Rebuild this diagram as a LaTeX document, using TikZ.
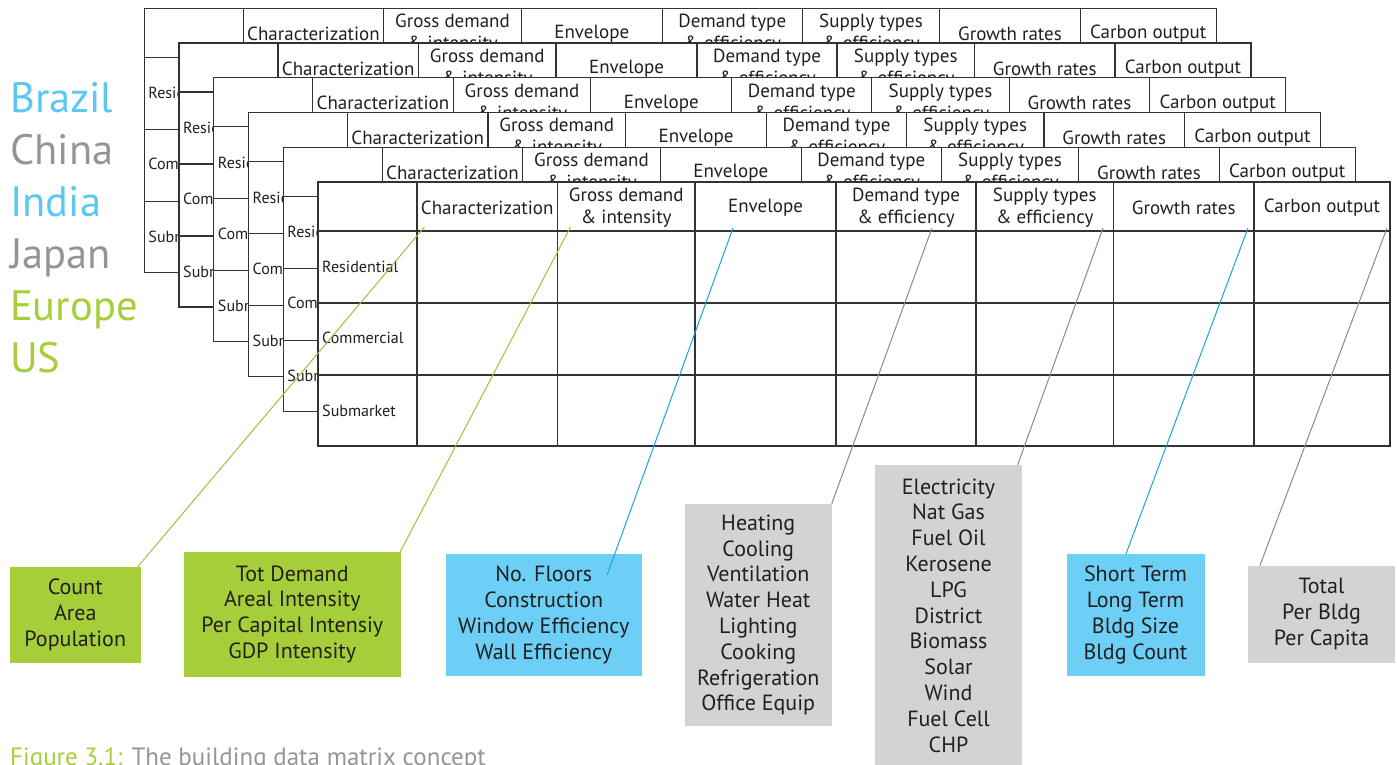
\documentclass[tikz,border=0pt]{standalone}
\usepackage{fontspec}
\setmainfont{PT Sans}
\usetikzlibrary{calc}
\definecolor{ink}{HTML}{231F20}
\definecolor{tblline}{HTML}{333333}
\definecolor{cblue}{HTML}{5BC8F2}
\definecolor{cgray}{HTML}{939598}
\definecolor{cgreen}{HTML}{A6CE39}
\definecolor{bgreen}{HTML}{A6CE39}
\definecolor{bblue}{HTML}{6DCFF6}
\definecolor{bgray}{HTML}{D1D3D4}
\definecolor{lgreen}{HTML}{9CC43A}
\definecolor{lblue}{HTML}{1BA3E3}
\definecolor{lgray}{HTML}{8C8C8C}
\begin{document}
\begin{tikzpicture}[x=1pt,y=-1pt,
  tbl/.style={draw=tblline, line width=1.3pt},
  hdr/.style={font=\fontsize{19}{22}\selectfont, align=center, text=ink, inner sep=0pt},
  rowlbl/.style={font=\fontsize{16.1}{18}\selectfont, anchor=west, text=ink, inner sep=0pt},
  country/.style={font=\fontsize{42.5}{48}\selectfont, anchor=base west, inner sep=0pt},
  infobox/.style={font=\fontsize{22}{25.8}\selectfont, align=center, text=ink, inner sep=0pt},
  conn/.style={line width=1pt}]
\useasboundingbox (0,0) rectangle (1397,764);

% stacked tables
\foreach \k in {0,...,5} {
  \pgfmathsetmacro\off{(\k-5)*34.75}
  \begin{scope}[shift={(318+\off,182+\off)}]
    \filldraw[tbl, fill=white] (0,0) rectangle (1072,264);
    \foreach \yy in {49,121,193} \draw[tbl] (0,\yy) -- (1072,\yy);
    \foreach \xx in {99,239.5,377,518,658,795.5,936} \draw[tbl] (\xx,0) -- (\xx,264);
    \node[hdr] (ha\k) at (169.25,25.5) {Characterization};
    \node[hdr] (hb\k) at (308.25,25.5) {Gross demand\\\& intensity};
    \node[hdr] (hc\k) at (447.5,25.5) {Envelope};
    \node[hdr] (hd\k) at (588,25.5) {Demand type\\\& efficiency};
    \node[hdr] (he\k) at (726.75,25.5) {Supply types\\\& efficiency};
    \node[hdr] (hf\k) at (865.75,25.5) {Growth rates};
    \node[hdr] (hg\k) at (1004,25.5) {Carbon output};
    \node[rowlbl] (ra\k) at (4,85) {Residential};
    \node[rowlbl] (rb\k) at (4,156) {Commercial};
    \node[rowlbl] (rc\k) at (4,228.5) {Submarket};
  \end{scope}
}

% countries
\node[country, text=cblue] (brazil) at (10,112) {Brazil};
\node[country, text=cgray]  (china)  at (10,164) {China};
\node[country, text=cblue] (india)  at (10,216) {India};
\node[country, text=cgray]  (japan)  at (10,268) {Japan};
\node[country, text=cgreen] (europe) at (10,320) {Europe};
\node[country, text=cgreen] (us)     at (10,372) {US};

% info boxes
\node[infobox, fill=bgreen, minimum width=130.5pt, minimum height=95.5pt] (b1) at (75.25,614.75)
  {Count\\Area\\Population};
\node[infobox, fill=bgreen, minimum width=217.5pt, minimum height=124.5pt] (b2) at (292.25,614.25)
  {Tot Demand\\Areal Intensity\\Per Capital Intensiy\\GDP Intensity};
\node[infobox, fill=bblue, minimum width=196.5pt, minimum height=121.5pt] (b3) at (543.75,614.75)
  {No. Floors\\Construction\\Window Efficiency\\Wall Efficiency};
\node[infobox, fill=bgray, minimum width=146.5pt, minimum height=222pt] (b4) at (758.25,615)
  {Heating\\Cooling\\Ventilation\\Water Heat\\Lighting\\Cooking\\Refrigeration\\Office Equip};
\node[infobox, fill=bgray, minimum width=147pt, minimum height=301pt] (b5) at (948.5,615.5)
  {Electricity\\Nat Gas\\Fuel Oil\\Kerosene\\LPG\\District\\Biomass\\Solar\\Wind\\Fuel Cell\\CHP};
\node[infobox, fill=bblue, minimum width=138pt, minimum height=122pt] (b6) at (1135.5,615)
  {Short Term\\Long Term\\Bldg Size\\Bldg Count};
\node[infobox, fill=bgray, minimum width=147pt, minimum height=96.5pt] (b7) at (1321.5,614.25)
  {Total\\Per Bldg\\Per Capita};

% connector start points in the front table
\coordinate (s1) at (424.5,227);
\coordinate (s2) at (570.5,227);
\coordinate (s3) at (733,228);
\coordinate (s4) at (932,228);
\coordinate (s5) at (1103,228);
\coordinate (s6) at (1248,228);
\coordinate (s7) at (1387,228);

\draw[conn, lgreen] (s1) -- ([xshift=-3pt]b1.north east);
\draw[conn, lgreen] (s2) -- ([xshift=-1pt]b2.north east);
\draw[conn, lblue]  (s3) -- ([xshift=-35pt,yshift=-21pt]b3.north east);
\draw[conn, lgray]  (s4) -- (b4.north east);
\draw[conn, lgray]  (s5) -- ([xshift=-4.5pt]b5.north east);
\draw[conn, lblue]  (s6) -- ([xshift=-9.5pt]b6.north);
\draw[conn, lgray]  (s7) -- ([xshift=12pt]b7.north west);

% caption
\node[anchor=base west, font=\fontsize{25}{28}\selectfont, inner sep=0pt] (caption) at (10,765)
  {\textcolor{cgreen}{Figure 3.1:} \textcolor{cgray}{The building data matrix concept}};
\end{tikzpicture}
\end{document}
